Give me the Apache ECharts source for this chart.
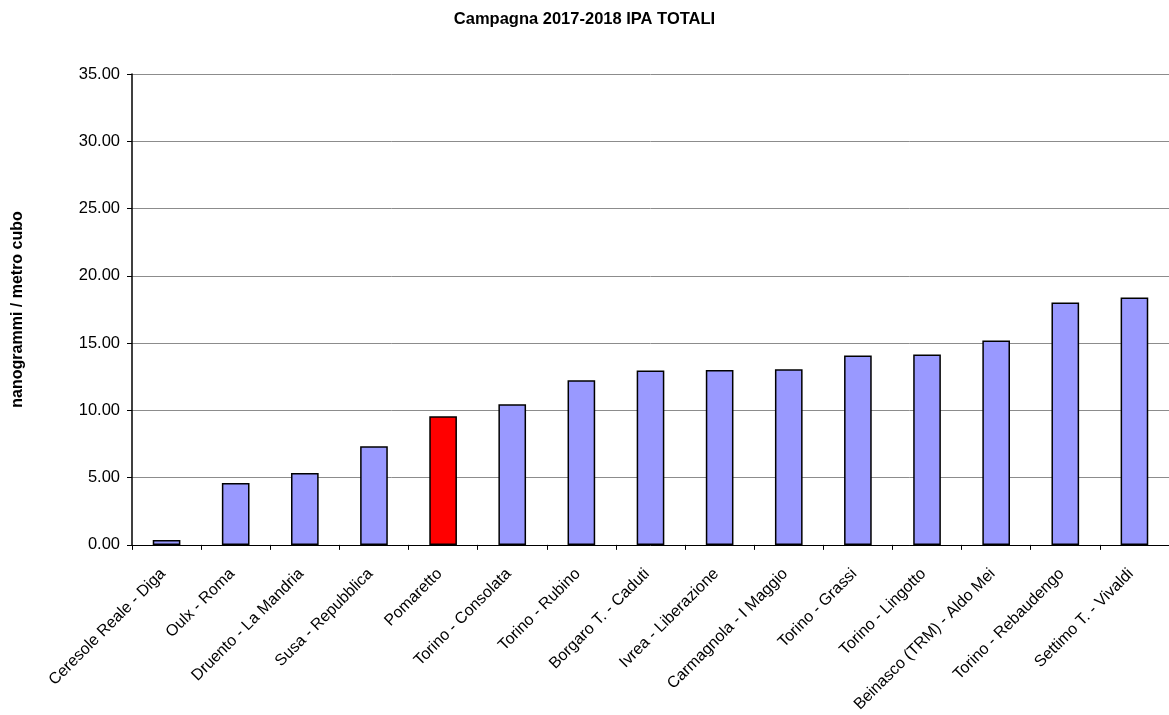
<!DOCTYPE html>
<html><head><meta charset="utf-8">
<script src="https://cdn.jsdelivr.net/npm/echarts@6/dist/echarts.min.js"></script>
<style>html,body{margin:0;padding:0;background:#fff}#c{width:1169px;height:715px}</style>
</head><body><div id="c"></div>
<script>
const categories = ["Ceresole Reale - Diga","Oulx - Roma","Druento - La Mandria","Susa - Repubblica","Pomaretto","Torino - Consolata","Torino - Rubino","Borgaro T. - Caduti","Ivrea - Liberazione","Carmagnola - I Maggio","Torino - Grassi","Torino - Lingotto","Beinasco (TRM) - Aldo Mei","Torino - Rebaudengo","Settimo T. - Vivaldi"];
const values = [0.37, 4.6, 5.34, 7.34, 9.56, 10.45, 12.23, 12.97, 13.0, 13.05, 14.08, 14.16, 15.2, 18.02, 18.38];
const highlight = "Pomaretto";
const chart = echarts.init(document.getElementById('c'));
const F = '"Liberation Sans", Arial, sans-serif';
chart.setOption({
  animation:false,
  title:{text:"Campagna 2017-2018 IPA TOTALI", left:'center', top:6,
    textStyle:{fontFamily:F, fontSize:16.5, fontWeight:'bold', color:'#000'}},
  grid:{left:132, width:1040, top:74, bottom:169, containLabel:false},
  xAxis:{type:'category', data:categories,
    axisLine:{lineStyle:{color:'#000', width:1}},
    axisTick:{show:true, alignWithLabel:false, length:5, lineStyle:{color:'#000'}},
    axisLabel:{rotate:45, interval:0, fontFamily:F, fontSize:16, color:'#000', margin:23, padding:[0,5,0,0]}},
  yAxis:{type:'value', min:0, max:35, interval:5,
    name:"nanogrammi / metro cubo", nameLocation:'middle', nameGap:106, nameRotate:90,
    nameTextStyle:{fontFamily:F, fontSize:16, fontWeight:'bold', color:'#000'},
    axisLine:{show:true, lineStyle:{color:'#000', width:1.5}},
    axisTick:{show:true, length:5, lineStyle:{color:'#000'}},
    axisLabel:{formatter:v=>v.toFixed(2), fontFamily:F, fontSize:16.5, color:'#000', margin:12},
    splitLine:{show:true, lineStyle:{color:'#8c8c8c', width:1}}},
  series:[{type:'bar', barWidth:'40%',
    data:values.map((v,i)=>({value:v, itemStyle:{color: categories[i]===highlight ? '#ff0000' : '#9999ff'}})),
    itemStyle:{borderColor:'#000', borderWidth:1.5}}]
});
</script></body></html>
